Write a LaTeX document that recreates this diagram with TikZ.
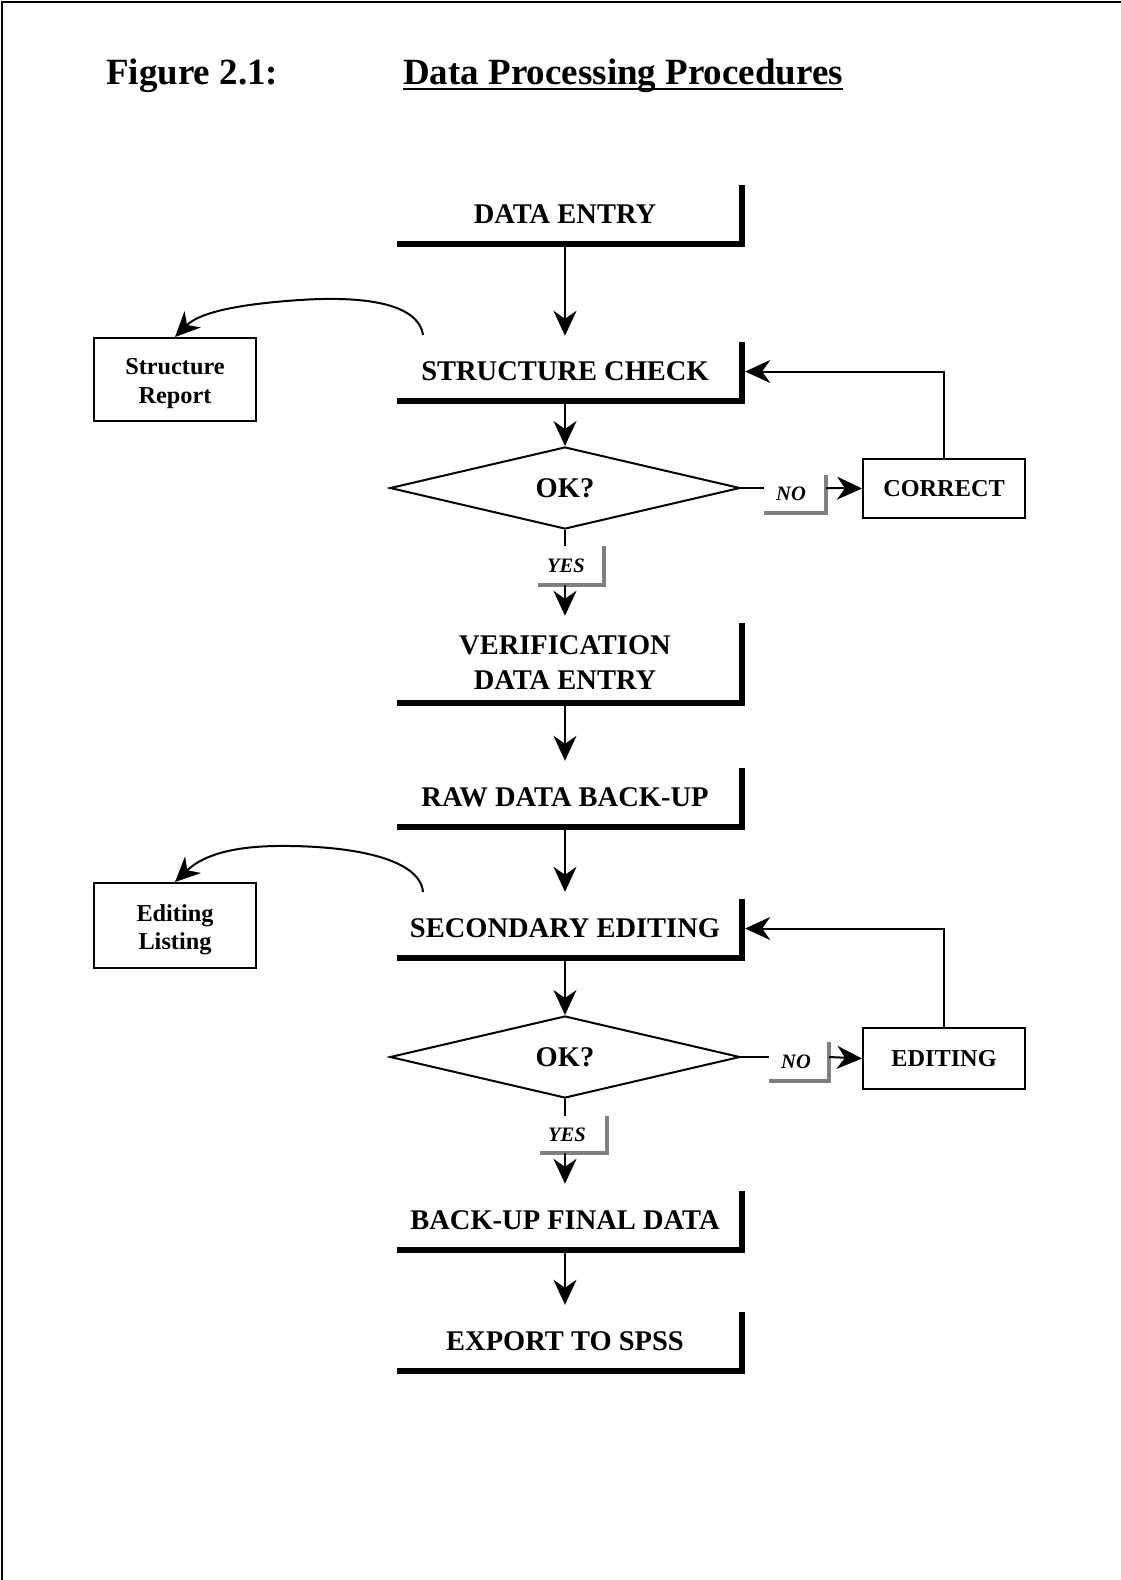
\documentclass[tikz,border=0pt]{standalone}
\usepackage{fontspec}
\setmainfont{Liberation Serif}
\usetikzlibrary{shapes.geometric,arrows.meta,calc}
\definecolor{tagGray}{RGB}{128,128,128}
\newcommand\procfont{\fontsize{28.5}{35}\selectfont\bfseries}
\newcommand\outfont{\fontsize{24.3}{28.5}\selectfont\bfseries}
\newcommand\tagfont{\fontsize{20.5}{24}\selectfont\bfseries\itshape}
\newcommand\titlefont{\fontsize{37}{44}\selectfont\bfseries}

\begin{document}
\begin{tikzpicture}[x=1pt,y=-1pt,
  proc/.style={minimum width=336pt, minimum height=59pt, inner sep=0pt, font=\procfont, align=center},
  heavy/.style={line width=6pt, line cap=butt, line join=miter},
  decision/.style={diamond, draw, line width=2pt, minimum width=350pt, minimum height=82pt,
                   inner sep=0pt, shape aspect=4.27, font=\procfont},
  outbox/.style={draw, line width=2pt, minimum width=162pt, inner sep=0pt},
  outtext/.style={font=\outfont, align=center, inner sep=0pt},
  tag/.style={inner sep=0pt, font=\tagfont},
  tagline/.style={draw=tagGray, line width=3.5pt, line cap=butt, line join=miter},
  flow/.style={line width=2pt, -{Stealth[length=25pt,width=23pt,inset=8pt]}},
  link/.style={line width=2pt},
]
\useasboundingbox (0,0) rectangle (1121,1580);

% page frame
\draw[line width=2.5pt, line join=miter] (2,1580) -- (2,2) -- (1121,2);

% heading
\node[anchor=base west, inner sep=0pt, font=\titlefont] (fig) at (106,84) {Figure 2.1:};
\node[anchor=base west, inner sep=0pt, font=\titlefont] (ttl) at (403,84) {Data Processing Procedures};
\draw[line width=2.5pt] ([yshift=-5pt]ttl.base west) -- ([yshift=-5pt]ttl.base east);

% main column
\node[proc] (de) at (565,214.5) {DATA ENTRY};
\node[proc] (sc) at (565,371.5) {STRUCTURE CHECK};
\node[decision] (d1) at (565,488) {OK?};
\node[tag, minimum width=62pt, minimum height=38pt] (no1) at (795,494) {NO\hspace*{8pt}};
\node[outbox, minimum height=59pt, label={[outtext]center:CORRECT}] (cor) at (944,488.5) {};
\node[tag, minimum width=66pt, minimum height=39pt] (yes1) at (571,565.5) {YES\hspace*{10pt}};
\node[proc, minimum height=80pt] (ve) at (565,663) {VERIFICATION\\DATA ENTRY};
\node[proc] (rd) at (565,797.5) {RAW DATA BACK-UP};
\node[proc] (se) at (565,928.5) {SECONDARY EDITING};
\node[decision] (d2) at (565,1057) {OK?};
\node[tag, minimum width=60pt, minimum height=39pt] (no2) at (799,1061.5) {NO\hspace*{6pt}};
\node[outbox, minimum height=61pt, label={[outtext]center:EDITING}] (edt) at (944,1058.5) {};
\node[tag, minimum width=67pt, minimum height=37pt] (yes2) at (573.5,1134.5) {YES\hspace*{13pt}};
\node[proc] (bf) at (565,1220.5) {BACK-UP FINAL DATA};
\node[proc] (ex) at (565,1341.5) {EXPORT TO SPSS};

% side reports
\node[outbox, minimum height=83pt, label={[outtext, yshift=-4pt]center:Structure\\Report}] (sr) at (175,379.5) {};
\node[outbox, minimum height=85pt, label={[outtext, yshift=-4pt]center:Editing\\Listing}] (el) at (175,925.5) {};

% heavy right/bottom edges of the process steps
\foreach \n in {de,sc,ve,rd,se,bf,ex}
  \draw[heavy] ([xshift=9pt]\n.north east) -- ([xshift=9pt]\n.south east) -- (\n.south west);

% grey corner marks of the branch labels
\foreach \n in {no1,yes1,no2,yes2}
  \draw[tagline] (\n.north east) -- (\n.south east) -- (\n.south west);

% main flow
\draw[flow, shorten >=6pt] (de.south) -- (sc.north);
\draw[flow] (sc.south) -- (d1.north);
\draw[link] (d1.south) -- (d1.south |- yes1.north);
\draw[flow, shorten >=7pt] (d1.south |- yes1.south) -- (ve.north);
\draw[flow, shorten >=7pt] (ve.south) -- (rd.north);
\draw[flow, shorten >=7pt] (rd.south) -- (se.north);
\draw[flow] (se.south) -- (d2.north);
\draw[link] (d2.south) -- (d2.south |- yes2.north);
\draw[flow, shorten >=7pt] (d2.south |- yes2.south) -- (bf.north);
\draw[flow, shorten >=7pt] (bf.south) -- (ex.north);

% rejection loops
\draw[link] (d1.east) -- (d1.east -| no1.west);
\draw[flow] (d1.east -| no1.east) -- (cor.west);
\draw[flow] (cor.north) |- ([xshift=12pt]sc.east);
\draw[link] (d2.east) -- (d2.east -| no2.west);
\draw[flow] (d2.east -| no2.east) -- (edt.west);
\draw[flow] (edt.north) |- ([xshift=12pt]se.east);

% report outputs
\coordinate (c1) at (423,335);
\coordinate (c2) at (423,892);
\draw[flow] (c1) .. controls (418,302) and (360,296) .. (300,300)
                 .. controls (240,304) and (200,312) .. (sr.north);
\draw[flow] (c2) .. controls (420,858) and (350,845) .. (275,846)
                 .. controls (225,847) and (200,858) .. (el.north);
\end{tikzpicture}
\end{document}
